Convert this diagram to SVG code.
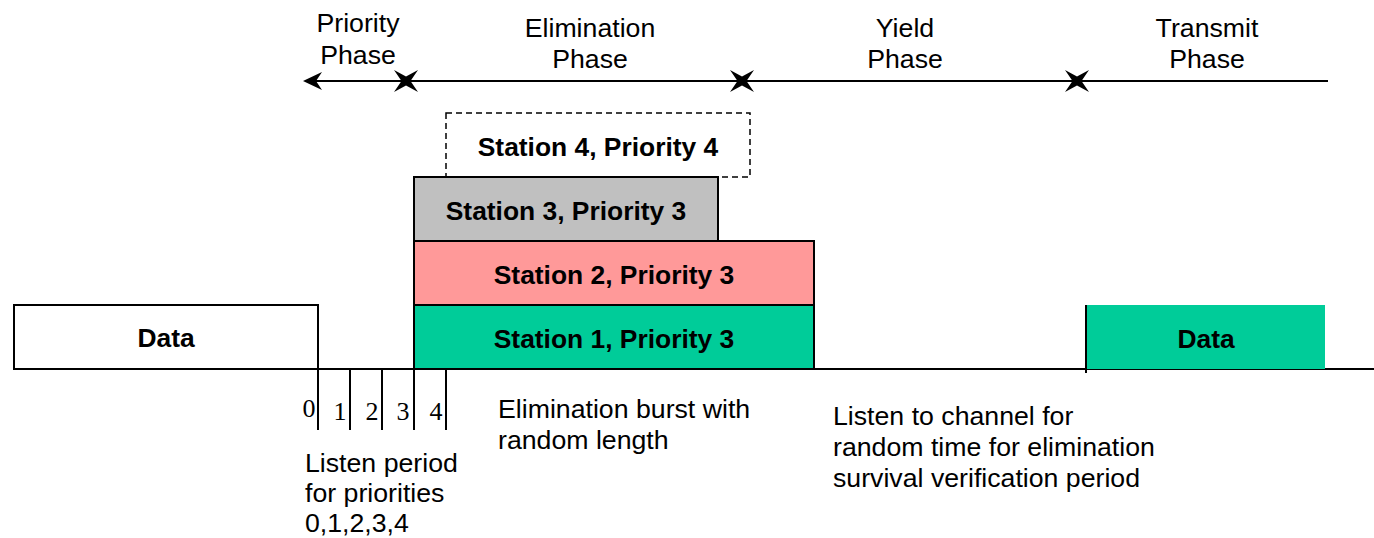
<svg xmlns="http://www.w3.org/2000/svg" width="1374" height="538" viewBox="0 0 1374 538">
<defs>
<style>
.t{font-family:"Liberation Sans",Arial,sans-serif;font-size:26.7px;fill:#000}
.c{text-anchor:middle}
.b{font-weight:bold;font-size:26.4px}
.d{font-family:"Liberation Serif","Times New Roman",serif;font-size:26px;fill:#000;text-anchor:middle}
.ln{stroke:#000;stroke-width:2;fill:none}
.box{stroke:#000;stroke-width:2}
</style>
<path id="star" d="M-12,-11 L0,-4.5 L12,-11 L4.5,0 L12,11 L0,4.5 L-12,11 L-4.5,0 Z" fill="#000"/>
</defs>
<rect width="1374" height="538" fill="#fff"/>
<g id="phases">
<text class="t c" x="358" y="32">Priority</text>
<text class="t c" x="358" y="64">Phase</text>
<text class="t c" x="590" y="37">Elimination</text>
<text class="t c" x="590" y="68">Phase</text>
<text class="t c" x="905" y="37">Yield</text>
<text class="t c" x="905" y="68">Phase</text>
<text class="t c" x="1207" y="37">Transmit</text>
<text class="t c" x="1207" y="68">Phase</text>
</g>
<g id="connectors">
<line class="ln" x1="312" y1="81" x2="1328" y2="81"/>
<path d="M303,81 L322,72 L316,81 L322,90 Z" fill="#000"/>
<use href="#star" x="406" y="81"/>
<use href="#star" x="742" y="81"/>
<use href="#star" x="1077" y="81"/>
<line class="ln" x1="207" y1="369" x2="1374" y2="369"/>
<line class="ln" x1="318" y1="305" x2="318" y2="430"/>
<line class="ln" x1="350" y1="369" x2="350" y2="430"/>
<line class="ln" x1="382" y1="369" x2="382" y2="430"/>
<line class="ln" x1="414" y1="369" x2="414" y2="430"/>
<line class="ln" x1="446" y1="369" x2="446" y2="430"/>
<line class="ln" x1="1086" y1="305" x2="1086" y2="373"/>
</g>
<g id="data-left">
<rect class="box" x="14" y="305" width="304" height="64" fill="#fff"/>
<text class="t c b" x="166" y="347">Data</text>
</g>
<g id="station4">
<rect x="446" y="113" width="304" height="64" fill="none" stroke="#000" stroke-width="1.5" stroke-dasharray="6,4"/>
<text class="t c b" x="598" y="156">Station 4, Priority 4</text>
</g>
<g id="station3">
<rect class="box" x="414" y="177" width="304" height="64" fill="#C0C0C0"/>
<text class="t c b" x="566" y="220">Station 3, Priority 3</text>
</g>
<g id="station2">
<rect class="box" x="414" y="241" width="400" height="64" fill="#FF9999"/>
<text class="t c b" x="614" y="284">Station 2, Priority 3</text>
</g>
<g id="station1">
<rect class="box" x="414" y="305" width="400" height="64" fill="#00CC99"/>
<text class="t c b" x="614" y="348">Station 1, Priority 3</text>
</g>
<g id="data-right">
<rect x="1087" y="305" width="238" height="64" fill="#00CC99"/>
<text class="t c b" x="1206" y="348">Data</text>
</g>
<g id="slots">
<text class="d" x="309" y="417">0</text>
<text class="d" x="340" y="420">1</text>
<text class="d" x="372" y="420">2</text>
<text class="d" x="403" y="420">3</text>
<text class="d" x="436" y="420">4</text>
</g>
<g id="notes">
<text class="t" x="305" y="472">Listen period</text>
<text class="t" x="305" y="502">for priorities</text>
<text class="t" x="305" y="532">0,1,2,3,4</text>
<text class="t" x="498" y="418">Elimination burst with</text>
<text class="t" x="498" y="449">random length</text>
<text class="t" x="833" y="425">Listen to channel for</text>
<text class="t" x="833" y="456">random time for elimination</text>
<text class="t" x="833" y="487">survival verification period</text>
</g>
</svg>
